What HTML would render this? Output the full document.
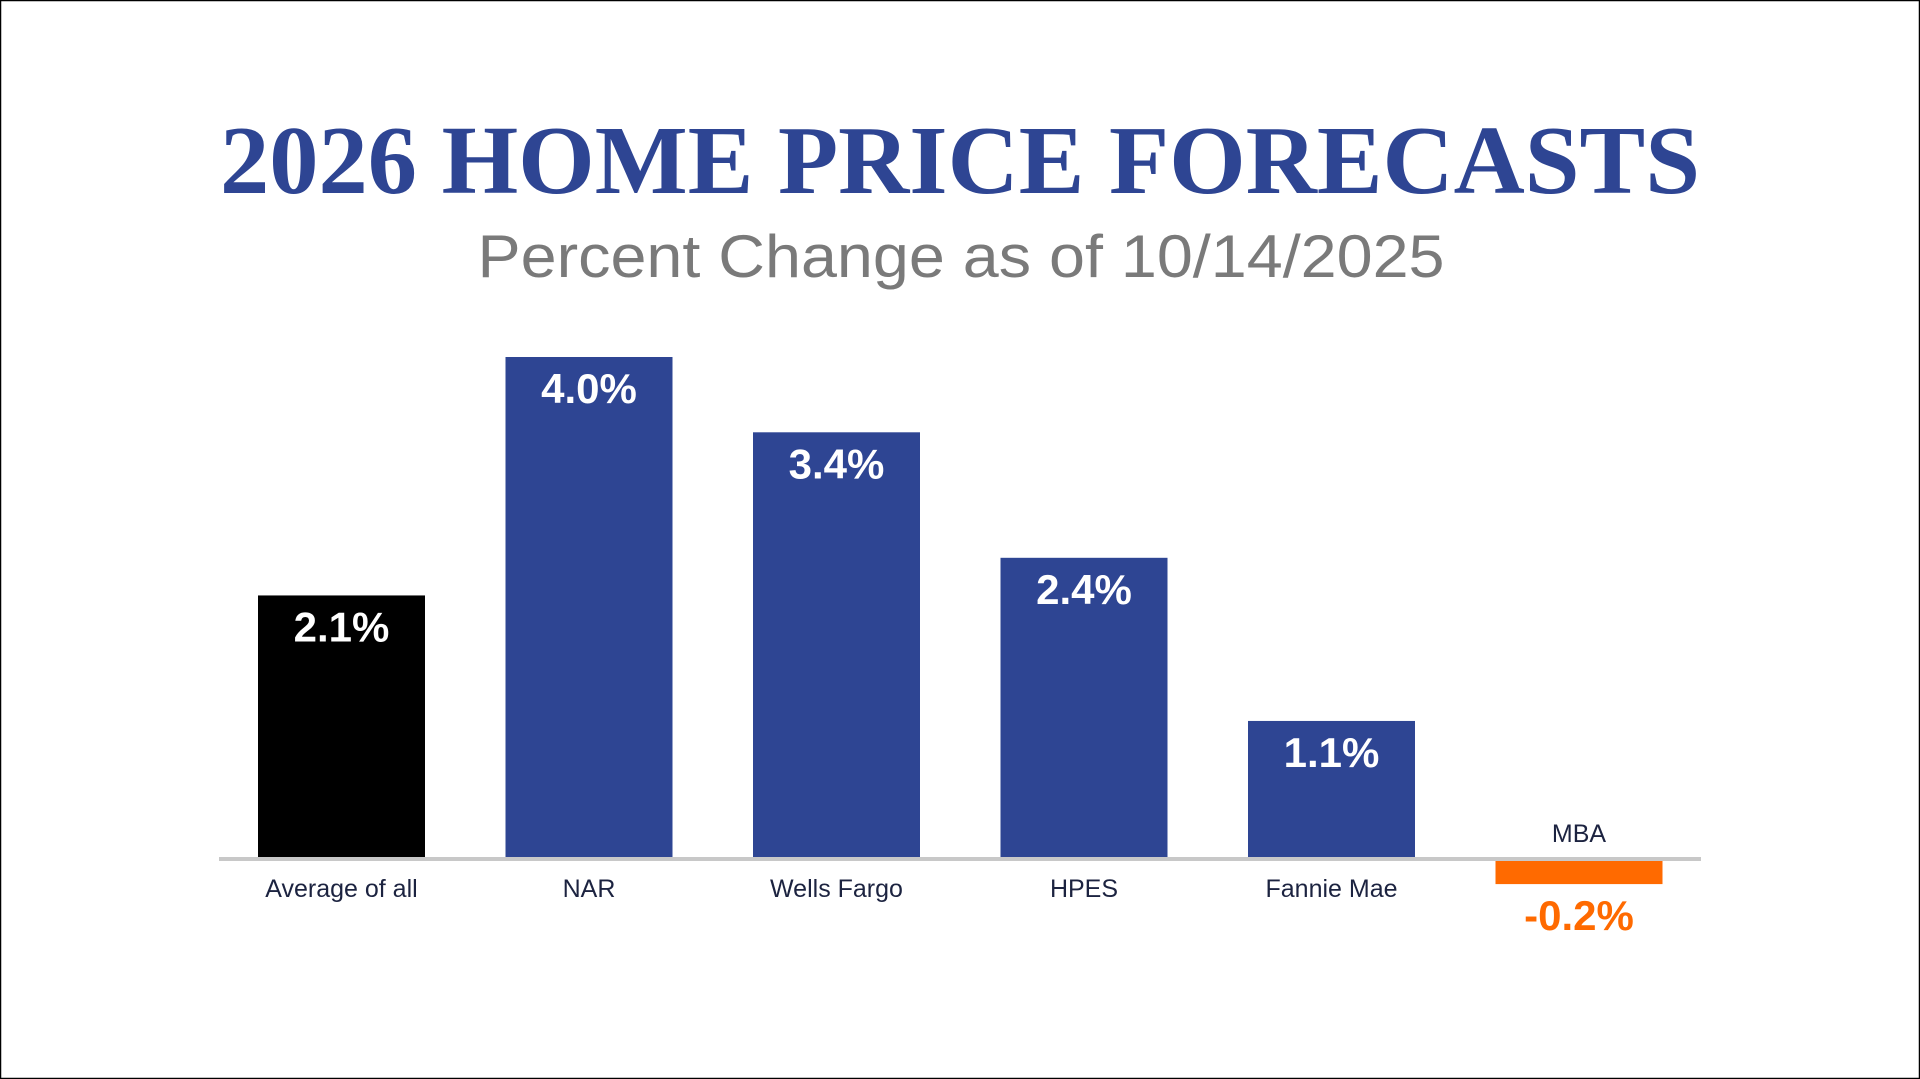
<!DOCTYPE html>
<html>
<head>
<meta charset="utf-8">
<style>
  html,body{margin:0;padding:0;background:#fff;}
  body{width:1920px;height:1079px;overflow:hidden;}
  svg{display:block;}
</style>
</head>
<body>
<svg id="chart" width="1920" height="1079" viewBox="0 0 1920 1079" xmlns="http://www.w3.org/2000/svg">
  <rect x="0.5" y="0.5" width="1919" height="1078" fill="#fff" stroke="#000" stroke-width="1.5"/>
  <text x="960" y="193" text-anchor="middle" font-family="'Liberation Serif', serif" font-weight="bold" font-size="98" fill="#2E4593" textLength="1480" lengthAdjust="spacingAndGlyphs">2026 HOME PRICE FORECASTS</text>
  <text x="961" y="277" text-anchor="middle" font-family="'Liberation Sans', sans-serif" font-size="60" fill="#7a7a7a" textLength="967" lengthAdjust="spacingAndGlyphs">Percent Change as of 10/14/2025</text>
  <g id="bars"></g>
  <g id="labels"></g>
</svg>
<script>
const categories = ["Average of all", "NAR", "Wells Fargo", "HPES", "Fannie Mae", "MBA"];
const values = [2.1, 4.0, 3.4, 2.4, 1.1, -0.2];
const valueLabels = ["2.1%", "4.0%", "3.4%", "2.4%", "1.1%", "-0.2%"];
const barColors = ["#000000", "#2E4593", "#2E4593", "#2E4593", "#2E4593", "#FF6A00"];

const NS = "http://www.w3.org/2000/svg";
const zeroY = 859;
const pxPerUnit = 125.5;
const firstCenter = 341.5;
const step = 247.5;
const barW = 167;
function xCenter(i){ return firstCenter + i * step; }
function yScale(v){ return zeroY - v * pxPerUnit; }

const barsG = document.getElementById('bars');
const labelsG = document.getElementById('labels');

function mk(tag, attrs){
  const el = document.createElementNS(NS, tag);
  for (const k in attrs) el.setAttribute(k, attrs[k]);
  return el;
}

categories.forEach((cat, i) => {
  const v = values[i];
  const cx = xCenter(i);
  let top, h;
  if (v >= 0) { top = yScale(v); h = zeroY - 2 - top; }
  else { top = zeroY + 2; h = yScale(v) - zeroY - 2; }
  const r = mk('rect', {x: cx - barW/2, y: top, width: barW, height: Math.max(h,0), fill: barColors[i]});
  
  
  barsG.appendChild(r);

  const vl = mk('text', {
    x: cx, 'text-anchor': 'middle',
    'font-family': "'Liberation Sans', sans-serif", 'font-weight': 'bold', 'font-size': '42'
  });
  if (v >= 0) { vl.setAttribute('y', top + 46); vl.setAttribute('fill', '#fff'); }
  else { vl.setAttribute('y', 930); vl.setAttribute('fill', '#FF6A00'); }
  vl.textContent = valueLabels[i];
  
  
  labelsG.appendChild(vl);

  const cl = mk('text', {
    x: cx, 'text-anchor': 'middle',
    'font-family': "'Liberation Sans', sans-serif", 'font-size': '25', fill: '#1c2340'
  });
  cl.setAttribute('y', v >= 0 ? 897 : 842);
  cl.textContent = cat;
  
  
  labelsG.appendChild(cl);
});

const axis = mk('line', {x1: 219, x2: 1701, y1: zeroY, y2: zeroY, stroke: '#c8c8c8', 'stroke-width': 4});


barsG.appendChild(axis);
</script>
</body>
</html>
